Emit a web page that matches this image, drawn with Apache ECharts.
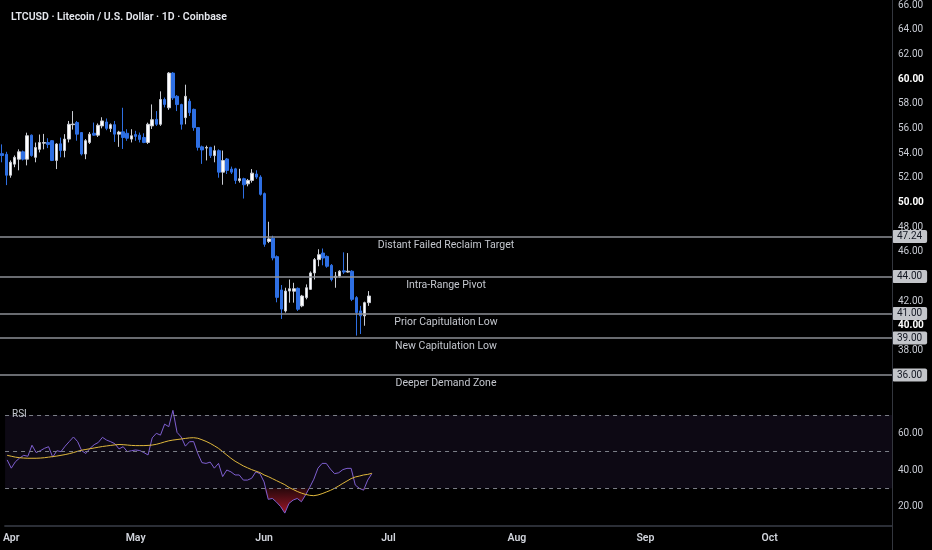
<!DOCTYPE html>
<html>
<head>
<meta charset="utf-8">
<script src="https://cdn.jsdelivr.net/npm/echarts@6/dist/echarts.min.js"></script>
<style>
html,body{margin:0;padding:0;background:#000;}
#chart{width:932px;height:550px;}
</style>
</head>
<body>
<div id="chart"></div>
<script>
// ---------- data ----------
const titleText = 'LTCUSD \u00b7 Litecoin / U.S. Dollar \u00b7 1D \u00b7 Coinbase';
const startDate = [2025, 2, 31];   // 31 Mar
const dayCount = 214;              // axis runs to end of October
const monthNames = ['Jan','Feb','Mar','Apr','May','Jun','Jul','Aug','Sep','Oct','Nov','Dec'];

const opens = [53.95,53.9,52.2,53.1,53.5,54.1,53.5,55.45,53.65,54.3,
  54.8,54.85,55.0,53.4,54.75,54.2,55.13,56.3,56.47,55.66,
  53.92,54.86,55.6,55.45,56.2,56.52,55.98,56.3,55.53,55.72,
  55.6,55.13,55.5,55.45,55.26,54.86,56.2,56.73,56.33,58.34,
  57.67,60.48,58.6,57.93,56.87,58.2,57.54,56.06,54.5,54.4,
  54.46,53.79,54.19,52.45,53.52,52.7,52.72,51.76,51.92,51.5,
  51.78,52.3,52.05,50.71,46.83,47.1,45.6,42.9,41.2,42.81,
  42.8,43.03,41.61,42.28,42.95,44.28,45.36,45.89,45.62,44.9,
  43.9,44.02,44.45,44.35,44.42,42.28,41.2,40.8,41.87];
const closes = [53.8,52.2,53.25,53.65,54.1,53.5,55.4,53.8,54.45,54.85,
  54.85,54.7,53.4,54.73,54.2,55.13,56.33,56.35,55.53,53.92,
  55.0,55.53,55.45,56.25,56.6,56.0,56.3,55.53,55.7,55.26,
  55.2,55.4,55.35,55.1,54.86,56.33,56.7,56.33,58.34,57.94,
  60.48,58.47,57.93,56.33,58.6,57.27,56.06,54.46,54.25,54.45,
  53.79,54.19,52.45,53.39,52.59,52.45,51.78,51.92,51.43,51.78,
  52.37,52.05,50.65,46.6,47.04,45.5,42.3,41.35,42.81,43.0,
  43.0,41.34,42.41,43.08,44.28,45.36,45.76,45.49,44.82,43.75,
  44.02,44.42,44.35,44.42,42.14,41.07,40.8,41.87,42.41];
const lows = [53.25,51.4,52.0,52.85,52.6,53.4,53.0,53.7,53.25,54.05,
  54.3,54.4,53.35,52.7,53.65,53.65,54.86,55.9,55.0,53.8,
  53.5,54.73,55.4,55.3,56.0,55.85,55.7,54.9,54.5,54.33,
  54.99,54.86,54.99,54.86,54.8,54.73,55.95,56.2,56.2,57.7,
  57.5,58.3,57.4,55.9,56.33,57.0,55.8,54.2,53.12,53.4,
  53.6,53.25,52.0,51.43,52.3,52.3,51.5,51.6,50.31,51.3,
  51.6,51.9,50.55,46.4,46.7,45.3,41.9,40.55,41.07,41.87,
  41.87,41.2,41.5,42.14,42.9,43.75,44.82,44.9,44.7,43.6,
  43.08,43.9,44.2,44.3,42.0,39.2,39.33,40.0,41.61];
const highs = [54.7,54.1,53.4,53.8,54.3,54.2,55.65,55.5,54.85,55.5,
  55.55,55.2,55.05,54.8,55.25,55.53,56.6,57.4,56.6,55.7,
  55.13,55.7,56.47,56.4,56.9,56.8,56.4,56.6,55.8,57.67,
  55.93,55.93,55.8,55.66,55.6,56.46,57.94,57.4,59.0,58.5,
  60.56,60.56,58.7,58.0,59.54,58.4,57.6,56.1,54.6,54.6,
  54.5,54.6,54.3,54.2,53.6,52.9,52.8,52.72,52.0,51.9,
  52.7,52.6,52.2,50.8,48.43,47.3,45.7,43.3,43.08,43.75,
  43.48,43.1,42.5,43.35,44.4,45.49,46.2,46.26,45.7,45.0,
  44.36,44.5,45.95,45.89,44.5,42.4,41.61,41.95,42.81];

const rsi = [45.5,41,44.5,46.5,48,47.5,53.5,49.5,50.5,51.8,
  52.7,47,50.5,50,53,55.5,58,55.5,50.5,49,
  51.8,53.8,55,57.8,56.3,55.4,54.3,51.5,52.7,50,
  50.5,50.9,50.6,49.5,48.2,57.5,60,59,65,63.6,
  72.5,60.5,58,53,55.4,55.5,49,44,43.6,44.3,
  41,43.6,36.4,40,39,37.3,37.3,34.5,34.5,35.5,
  39,38,33.5,24,24.5,22.5,20,16.5,21.8,23.6,
  24.5,22.7,26.4,30.5,35,41,43.6,43.6,40.5,38,
  38.5,40.2,40.9,40.9,31.8,30,29,34.5,38];
const rsiMA = [48.0,47.5,47.0,46.7,46.5,46.4,46.4,46.4,46.5,46.7,
  47.0,47.3,47.6,48.0,48.4,48.9,49.5,50.2,50.8,51.2,
  51.6,52.0,52.4,52.8,53.1,53.4,53.7,53.9,53.8,53.6,
  53.4,53.3,53.3,53.3,53.4,53.6,54.0,54.6,55.3,55.9,
  56.3,56.6,56.9,57.2,57.5,57.6,57.3,56.5,55.6,54.5,
  53.2,51.8,50.0,48.2,46.4,44.8,43.5,42.2,41.2,40.2,
  39.4,38.6,37.3,36.4,35.3,34.2,33.1,32.0,30.5,29.4,
  28.3,27.4,26.7,26.2,26.0,26.4,27.1,28.0,28.9,30.0,
  31.3,32.7,34.0,35.3,36.2,36.7,37.3,37.6,38.2];

const levelPrices = [47.24, 44.00, 41.00, 39.00, 36.00];
const levelNames = ['Distant Failed Reclaim Target','Intra-Range Pivot','Prior Capitulation Low','New Capitulation Low','Deeper Demand Zone'];
const priceTicks = [38,40,42,46,48,50,52,54,56,58,60,62,64,66];
const rsiTicks = [20,40,60];
const rsiLevels = [70,50,30];
const rsiBand = [30,70];
const oversoldLevel = 30;

// ---------- build ----------
const dates = [];
const t0 = Date.UTC(startDate[0], startDate[1], startDate[2]);
for (let i = 0; i < dayCount; i++) {
  dates.push(new Date(t0 + i * 86400000).toISOString().slice(0, 10));
}
const candles = opens.map((o, i) => [o, closes[i], lows[i], highs[i]]);
const oversold = rsi.map(v => Math.min(v, oversoldLevel));

const FONT = 'Roboto, "Noto Sans", "DejaVu Sans", sans-serif';
const UP = '#ffffff', UP_BORDER = '#c9ccd3', DOWN = '#2e6fe3';

const levelLines = [];
levelPrices.forEach((p, i) => {
  levelLines.push({
    name: levelNames[i], yAxis: p,
    lineStyle: {color: '#8d8f96', width: 1.5, type: 'solid'},
    label: {show: true, position: 'insideMiddleBottom', formatter: '{b}', distance: 3,
      color: '#c4c7ce', fontSize: 10.5, fontFamily: FONT}
  });
  levelLines.push({
    yAxis: p,
    lineStyle: {color: 'rgba(0,0,0,0)', width: 0},
    label: {show: true, position: 'end', distance: 0, formatter: p.toFixed(2),
      backgroundColor: '#c3c5ca', color: '#131722', fontSize: 10, fontFamily: FONT,
      padding: [2, 5, 1, 5], borderRadius: 2}
  });
});

const chart = echarts.init(document.getElementById('chart'));
chart.setOption({
  backgroundColor: '#000000',
  animation: false,
  textStyle: {fontFamily: FONT},
  title: [
    {text: titleText, left: 6, top: 7,
      textStyle: {color: '#e6e8ee', fontSize: 10.5, fontWeight: 600, fontFamily: FONT}},
    {text: 'RSI', left: 7, top: 404,
      textStyle: {color: '#c3c6ce', fontSize: 10, fontWeight: 'normal', fontFamily: FONT}}
  ],
  grid: [
    {left: 0, right: 40, top: 0, height: 400},
    {left: 0, right: 40, top: 400, height: 126}
  ],
  xAxis: [
    {type: 'category', gridIndex: 0, data: dates, boundaryGap: true, show: false},
    {type: 'category', gridIndex: 1, data: dates, boundaryGap: true,
      axisLine: {show: true, lineStyle: {color: '#2b2e36', width: 2}},
      axisTick: {show: false}, splitLine: {show: false},
      axisLabel: {
        interval: (idx, v) => v.slice(8) === '01',
        formatter: v => monthNames[+v.slice(5, 7) - 1],
        alignMinLabel: 'center', alignMaxLabel: 'center',
        color: '#d1d4dc', fontSize: 10.5, fontWeight: 600, margin: 7, fontFamily: FONT
      }}
  ],
  yAxis: [
    {type: 'value', gridIndex: 0, position: 'right', min: 33.98, max: 66.1,
      axisLine: {show: false}, axisTick: {show: false}, splitLine: {show: false},
      axisLabel: {
        customValues: priceTicks, margin: 6,
        formatter: v => (Math.round(v) % 10 === 0 ? '{b|' : '{n|') + v.toFixed(2) + '}',
        rich: {
          b: {color: '#ffffff', fontWeight: 'bold', fontSize: 10, fontFamily: FONT},
          n: {color: '#c8cbd3', fontSize: 10, fontFamily: FONT}
        }
      }},
    {type: 'value', gridIndex: 1, position: 'right', min: 9.48, max: 78.15,
      axisLine: {show: false}, axisTick: {show: false}, splitLine: {show: false},
      axisLabel: {customValues: rsiTicks, margin: 6, color: '#c8cbd3', fontSize: 10,
        fontFamily: FONT, formatter: v => v.toFixed(2)}}
  ],
  graphic: [
    {type: 'line', silent: true, z: 100,
      shape: {x1: 892.5, y1: 0, x2: 892.5, y2: 550},
      style: {stroke: '#33363e', lineWidth: 1}}
  ],
  series: [
    {type: 'candlestick', xAxisIndex: 0, yAxisIndex: 0, data: candles, barWidth: 3,
      itemStyle: {color: UP, color0: DOWN, borderColor: UP_BORDER, borderColor0: DOWN, borderWidth: 1},
      markLine: {symbol: ['none', 'none'], silent: true, animation: false, data: levelLines}},
    {type: 'line', xAxisIndex: 1, yAxisIndex: 1, data: oversold, symbol: 'none', silent: true,
      lineStyle: {width: 0},
      areaStyle: {origin: oversoldLevel, opacity: 1,
        color: new echarts.graphic.LinearGradient(0, 0, 0, 1, [
          {offset: 0, color: 'rgba(160,30,45,0.25)'},
          {offset: 1, color: 'rgba(190,25,45,0.85)'}
        ])}},
    {type: 'line', xAxisIndex: 1, yAxisIndex: 1, data: rsi, symbol: 'none', silent: true,
      lineStyle: {color: '#7e5fd0', width: 1},
      markArea: {silent: true, itemStyle: {color: 'rgba(126,87,194,0.10)'},
        data: [[{yAxis: rsiBand[0]}, {yAxis: rsiBand[1]}]]},
      markLine: {symbol: ['none', 'none'], silent: true, label: {show: false},
        lineStyle: {color: '#7c7f88', width: 1, type: [4, 4]},
        data: rsiLevels.map(v => ({yAxis: v}))}},
    {type: 'line', xAxisIndex: 1, yAxisIndex: 1, data: rsiMA, symbol: 'none', silent: true,
      lineStyle: {color: '#e0b83c', width: 1}}
  ]
});
</script>
</body>
</html>
